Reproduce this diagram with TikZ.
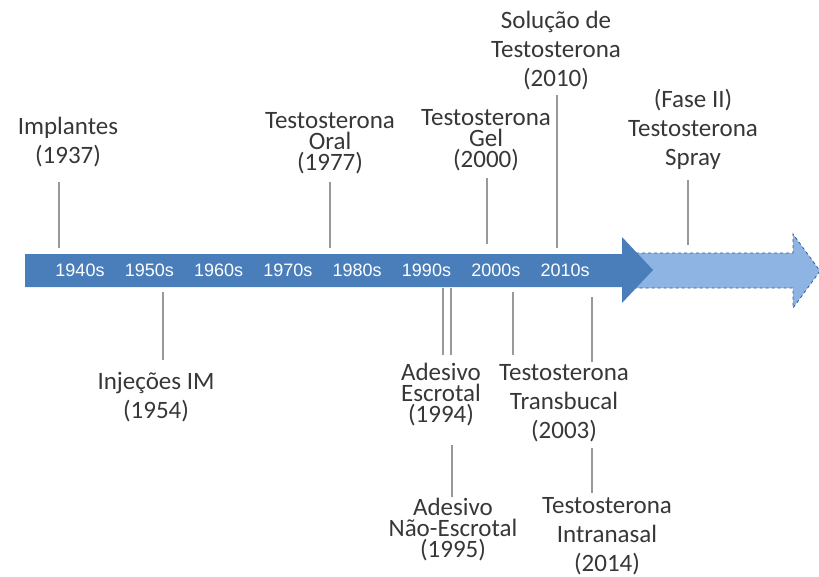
\documentclass[tikz,border=0pt]{standalone}
\usepackage{fontspec}
\setmainfont{Carlito}
\newfontfamily\decfont{Liberation Sans}
\definecolor{mainblue}{RGB}{74,126,187}
\definecolor{lightblue}{RGB}{141,180,226}
\definecolor{dashblue}{RGB}{50,90,150}
\definecolor{txt}{RGB}{55,55,55}
\begin{document}
\begin{tikzpicture}[x=1pt,y=-1pt,
  lbl/.style={align=center,text=txt,inner sep=0pt},
  f20/.style={font=\fontsize{25}{21}\selectfont},
  f29/.style={font=\fontsize{25}{29}\selectfont},
  dec/.style={text=white,font=\decfont\fontsize{18}{20}\selectfont,inner sep=0pt},
  tick/.style={draw=black!40,line width=1.2pt}]
\useasboundingbox (0,0) rectangle (819,576);
% dashed future arrow
\filldraw[fill=lightblue, draw=dashblue, dashed, line width=0.8pt]
  (630,253) -- (793,253) -- (793,234) -- (820,271) -- (793,308) -- (793,288) -- (630,288) -- cycle;
% main arrow
\fill[mainblue]
  (25,254) -- (622,254) -- (622,237) -- (653,270) -- (622,303) -- (622,287) -- (25,287) -- cycle;
% decades
\foreach \t [count=\i from 0] in {1940s,1950s,1960s,1970s,1980s,1990s,2000s,2010s}
  \node[dec] (d\i) at (80+69.3*\i,270) {\t};
% top labels
\node[lbl,f29] (imp) at (68,142) {Implantes\\(1937)};
\node[lbl,f20] (oral) at (330,143) {Testosterona\\Oral\\(1977)};
\node[lbl,f20] (gel) at (486,140) {Testosterona\\Gel\\(2000)};
\node[lbl,f29] (sol) at (556,51) {Solução de\\Testosterona\\(2010)};
\node[lbl,f29] (spray) at (693,129) {(Fase II)\\Testosterona\\Spray};
% bottom labels
\node[lbl,f29] (inj) at (156,397) {Injeções IM\\(1954)};
\node[lbl,f20] (esc) at (441,395) {Adesivo\\Escrotal\\(1994)};
\node[lbl,f29] (tb) at (564,403) {Testosterona\\Transbucal\\(2003)};
\node[lbl,f20] (nesc) at (453,530) {Adesivo\\Não-Escrotal\\(1995)};
\node[lbl,f29] (intra) at (607,536) {Testosterona\\Intranasal\\(2014)};
% ticks
\coordinate (a1) at (59,248); \draw[tick] (a1) -- (59,182);
\coordinate (a2) at (330,248); \draw[tick] (a2) -- (330,182);
\coordinate (a3) at (487,244); \draw[tick] (a3) -- (487,178);
\coordinate (a4) at (557,248); \draw[tick] (a4) -- (557,95);
\coordinate (a5) at (688,245); \draw[tick] (a5) -- (688,180);
\coordinate (b1) at (163,292); \draw[tick] (b1) -- (163,360);
\coordinate (b2) at (443,288); \draw[tick] (b2) -- (443,355);
\coordinate (b3) at (451,288); \draw[tick] (b3) -- (451,355);
\coordinate (b4) at (513,292); \draw[tick] (b4) -- (513,355);
\coordinate (b5) at (592,297); \draw[tick] (b5) -- (592,362);
\coordinate (c1) at (452,445); \draw[tick] (c1) -- (452,497);
\coordinate (c2) at (592,448); \draw[tick] (c2) -- (592,493);
\end{tikzpicture}
\end{document}
